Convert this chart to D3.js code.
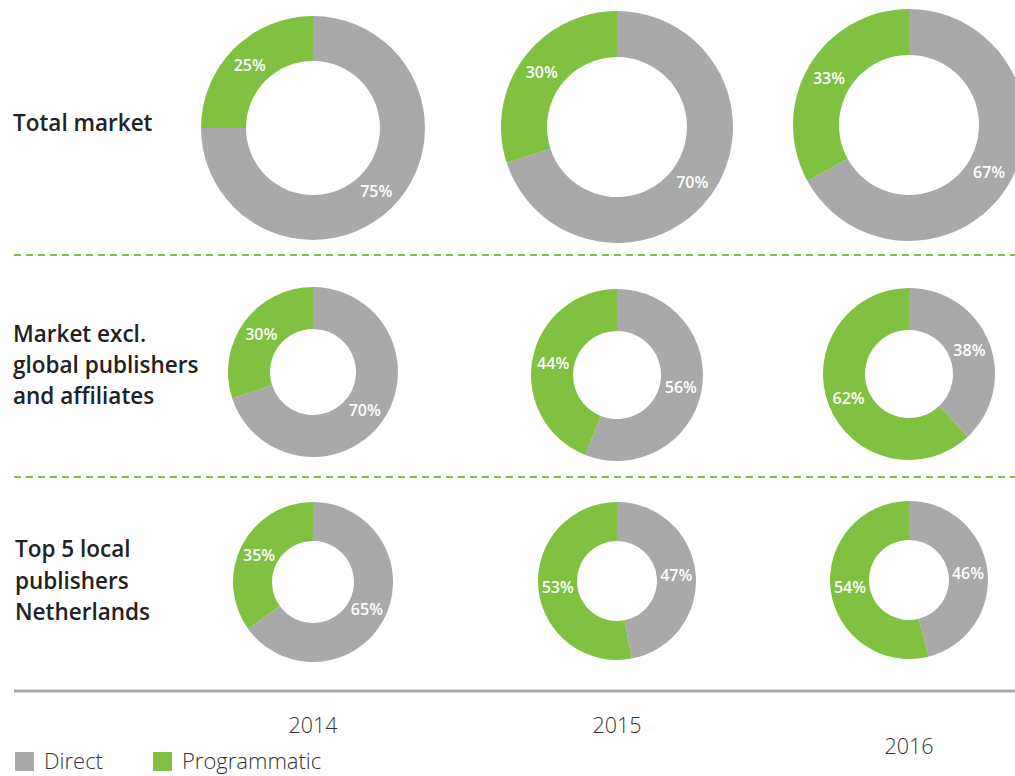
<!DOCTYPE html>
<html>
<head>
<meta charset="utf-8">
<script src="https://cdn.jsdelivr.net/npm/d3@7"></script>
<style>
  body { margin: 0; background: #fff; }
  svg { display: block; font-family: "Open Sans", "Noto Sans", sans-serif; }
  .rowLabel { font-size: 22.5px; font-weight: 600; fill: #222; }
  .pct { font-size: 16px; font-weight: 600; fill: #fff; }
  .year { font-size: 21.5px; font-weight: 300; fill: #333; }
  .legendText { font-size: 22px; font-weight: 300; fill: #333; }
</style>
</head>
<body>
<div id="chart"></div>
<script>
// ---- data ----
var years = ["2014", "2015", "2016"];
var segments = ["Total market", "Market excl. global publishers and affiliates", "Top 5 local publishers Netherlands"];
var segmentLines = [["Total market"], ["Market excl.", "global publishers", "and affiliates"], ["Top 5 local", "publishers", "Netherlands"]];
var series = ["Direct", "Programmatic"];
// share per segment (rows) and year (columns)
var directShare = [[75, 70, 67], [70, 56, 38], [65, 47, 46]];
var programmaticShare = [[25, 30, 33], [30, 44, 62], [35, 53, 54]];

// ---- layout ----
var svgWidth = 1015;
var svgHeight = 776;

var colX = d3.scaleOrdinal().domain(years).range([313, 617, 909]);
var rowCy = [[128, 127, 125], [372, 375, 374], [582, 581, 580]];
var outerR = [[112, 116, 116], [85, 86, 86], [80, 79, 79]];
var innerR = [[67, 70, 70], [43, 44, 44], [41, 40, 40]];
var labelX = [13, 13, 15];
var labelBase = [[131], [342, 373, 404], [557, 589, 620]];
var yearBase = [733, 733, 754];

var color = d3.scaleOrdinal().domain(series).range(["#a8a9a8", "#80c142"]);

var svg = d3.select("#chart")
  .append("svg")
  .attr("width", svgWidth)
  .attr("height", svgHeight);

var pie = d3.pie().sort(null).value(d => d.value);

// ---- donuts ----
segments.forEach((seg, i) => {
  years.forEach((yr, j) => {
    var slices = pie([
      { key: "Direct", value: directShare[i][j] },
      { key: "Programmatic", value: programmaticShare[i][j] }
    ]);
    var arc = d3.arc().innerRadius(innerR[i][j]).outerRadius(outerR[i][j]);

    var g = svg.append("g")
      .attr("transform", `translate(${colX(yr)}, ${rowCy[i][j]})`);

    g.selectAll("path")
      .data(slices)
      .enter()
      .append("path")
      .attr("d", arc)
      .attr("fill", d => color(d.data.key));

    g.selectAll(".pct")
      .data(slices)
      .enter()
      .append("text")
      .classed("pct", true)
      .attr("x", d => arc.centroid(d)[0])
      .attr("y", d => arc.centroid(d)[1])
      .attr("text-anchor", "middle")
      .attr("dominant-baseline", "central")
      .text(d => d.data.value + "%");
  });

  // row label
  var t = svg.append("text").classed("rowLabel", true);
  segmentLines[i].forEach((line, k) => {
    t.append("tspan")
      .attr("x", labelX[i])
      .attr("y", labelBase[i][k])
      .text(line);
  });
});

// ---- separators ----
[255, 477].forEach(y => {
  svg.append("line")
    .attr("x1", 14).attr("x2", svgWidth)
    .attr("y1", y).attr("y2", y)
    .attr("stroke", "#80c142")
    .attr("stroke-width", 2)
    .attr("stroke-dasharray", "7 5");
});

svg.append("line")
  .attr("x1", 14).attr("x2", svgWidth)
  .attr("y1", 691).attr("y2", 691)
  .attr("stroke", "#a8a9a8")
  .attr("stroke-width", 3);

// ---- year labels ----
svg.selectAll(".year")
  .data(years)
  .enter()
  .append("text")
  .classed("year", true)
  .attr("x", d => colX(d))
  .attr("y", (d, j) => yearBase[j])
  .attr("text-anchor", "middle")
  .text(d => d);

// ---- legend ----
var legendX = [15, 153];
var legend = svg.selectAll(".legendItem")
  .data(series)
  .enter()
  .append("g")
  .attr("transform", (d, k) => `translate(${legendX[k]}, 752)`);

legend.append("rect")
  .attr("width", 19)
  .attr("height", 19)
  .attr("fill", d => color(d));

legend.append("text")
  .classed("legendText", true)
  .attr("x", 29)
  .attr("y", 17)
  .text(d => d);
</script>
</body>
</html>
